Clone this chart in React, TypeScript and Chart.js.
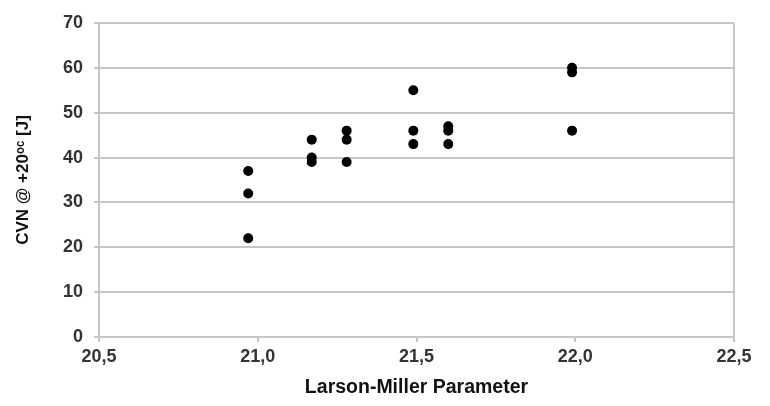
import React, { useEffect, useRef } from "react";
import { Chart, registerables } from "chart.js";

Chart.register(...registerables);

const lmpValues = [
  20.97, 20.97, 20.97,
  21.17, 21.17, 21.17,
  21.28, 21.28, 21.28,
  21.49, 21.49, 21.49,
  21.6, 21.6, 21.6,
  21.99, 21.99, 21.99,
];
const cvnValues = [
  37, 32, 22,
  44, 40, 39,
  46, 44, 39,
  55, 46, 43,
  47, 46, 43,
  60, 59, 46,
];
const xTitle = "Larson-Miller Parameter";
const yTitle = "CVN @ +20\u1D52\u1D9C [J]";

const GRID = "#c6c6c6";
const TICK_FONT = { family: "'Liberation Sans', Arial, sans-serif", size: 18, weight: "bold" as const };

export default function App() {
  const ref = useRef<HTMLCanvasElement | null>(null);
  useEffect(() => {
    if (!ref.current) return;
    const points = lmpValues.map((x, i) => ({ x, y: cvnValues[i] }));
    const chart = new Chart(ref.current, {
      type: "scatter",
      data: {
        datasets: [
          {
            data: points,
            pointRadius: 5,
            pointHoverRadius: 5,
            pointBackgroundColor: "#000",
            pointBorderWidth: 0,
            borderColor: "#000",
          },
        ],
      },
      options: {
        animation: false,
        responsive: false,
        layout: { padding: { left: 10, right: 36, top: 23, bottom: 6 } },
        plugins: { legend: { display: false }, tooltip: { enabled: false } },
        scales: {
          x: {
            type: "linear",
            min: 20.5,
            max: 22.5,
            afterFit: (s: any) => {
              s.height = 406 - 337 - 6;
            },
            ticks: {
              stepSize: 0.5,
              color: "#333",
              font: TICK_FONT,
              padding: 4,
              callback: (v: any) => Number(v).toFixed(1).replace(".", ","),
            },
            grid: {
              color: (ctx: any) => (ctx.index === 4 ? GRID : "rgba(0,0,0,0)"),
              tickColor: GRID,
              lineWidth: 2,
              tickLength: 5,
            },
            border: { display: true, color: GRID, width: 2 },
            title: {
              display: true,
              text: xTitle,
              color: "#111",
              font: { family: "'Liberation Sans', Arial, sans-serif", size: 19.5, weight: "bold" },
              padding: { top: 0, bottom: 1 },
            },
          },
          y: {
            type: "linear",
            min: 0,
            max: 70,
            afterFit: (s: any) => {
              s.width = 89;
            },
            ticks: {
              stepSize: 10,
              color: "#333",
              font: TICK_FONT,
              padding: 11,
            },
            grid: {
              color: GRID,
              tickColor: GRID,
              lineWidth: 2,
              tickLength: 5,
            },
            border: { display: true, color: GRID, width: 2 },
            title: {
              display: true,
              text: yTitle,
              color: "#111",
              font: { family: "'Liberation Sans', Arial, sans-serif", size: 17, weight: "bold" },
              padding: { top: 3, bottom: 0 },
            },
          },
        },
      },
    });
    return () => chart.destroy();
  }, []);
  return (
    <div style={{ position: "absolute", left: 0, top: 0, width: 770, height: 406, background: "#fff" }}>
      <canvas ref={ref} width={770} height={406} />
    </div>
  );
}
